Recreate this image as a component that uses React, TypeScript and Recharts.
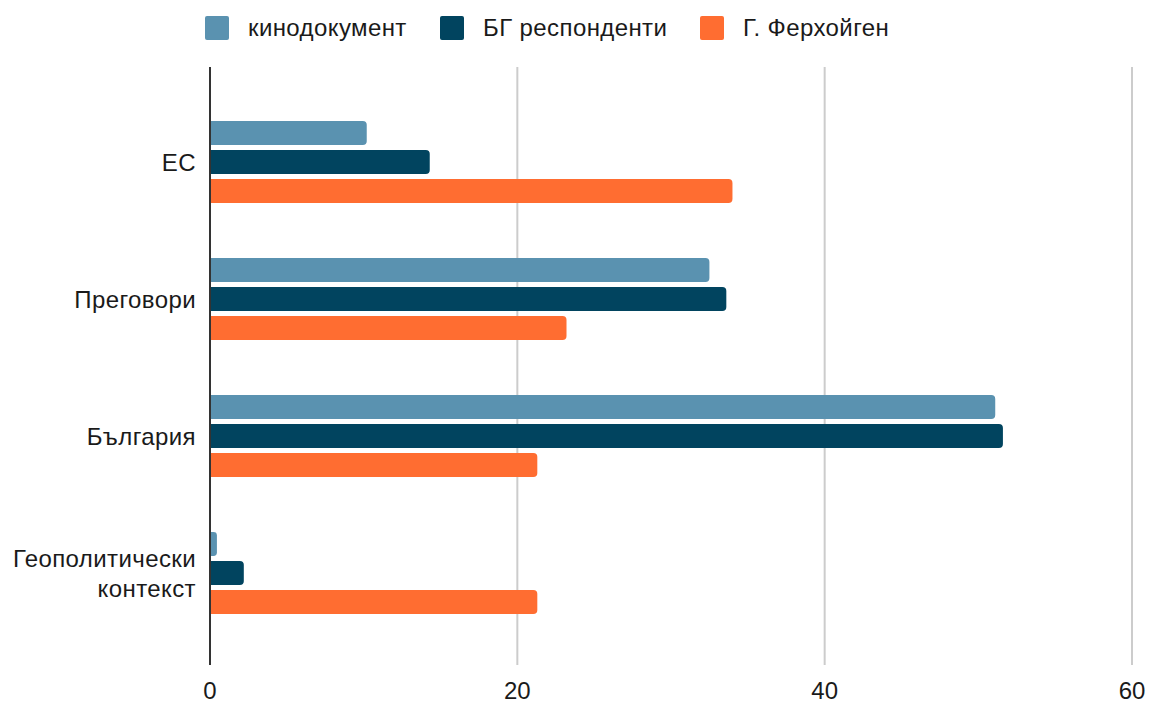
import { BarChart, Bar, XAxis, YAxis, CartesianGrid } from "recharts";

const categories = ["ЕС", "Преговори", "България", "Геополитически контекст"];
const kinodokument = [10.2, 32.5, 51.1, 0.45];
const bgRespondents = [14.3, 33.6, 51.6, 2.2];
const verheugen = [34.0, 23.2, 21.3, 21.3];
const xTicks = [0, 20, 40, 60];

const series = [
  { key: "kino", name: "кинодокумент", color: "#5a92b0", x: 205 },
  { key: "bg", name: "БГ респонденти", color: "#01445f", x: 440 },
  { key: "ver", name: "Г. Ферхойген", color: "#ff6d31", x: 700 },
];

const data = categories.map((c, i) => ({
  category: c,
  kino: kinodokument[i],
  bg: bgRespondents[i],
  ver: verheugen[i],
}));

const FONT = "'Liberation Sans', Arial, sans-serif";
const FS = 24;
const LS = 0.4;

const CategoryTick = ({ x, y, payload }: any) => {
  const words = String(payload.value).split(" ");
  const lineH = 30;
  const startDy = -((words.length - 1) * lineH) / 2;
  return (
    <text
      x={x - 6}
      y={y}
      textAnchor="end"
      fill="#1a1a1a"
      fontSize={FS}
      letterSpacing={LS}
      fontFamily={FONT}
      dominantBaseline="central"
    >
      {words.map((w, i) => (
        <tspan key={i} x={x - 6} dy={i === 0 ? startDy : lineH}>
          {w}
        </tspan>
      ))}
    </text>
  );
};

export default function App() {
  return (
    <div style={{ position: "absolute", left: 0, top: 0, width: 1151, height: 705, background: "#fff", fontFamily: FONT }}>
      {series.map((s) => (
        <div
          key={s.key}
          style={{
            position: "absolute",
            top: 14,
            left: s.x,
            height: 28,
            display: "flex",
            alignItems: "center",
            fontSize: FS,
            letterSpacing: LS,
            color: "#1a1a1a",
            whiteSpace: "nowrap",
          }}
        >
          <span
            style={{
              display: "inline-block",
              width: 24,
              height: 24,
              borderRadius: 2,
              background: s.color,
              marginRight: 19,
            }}
          />
          <span>{s.name}</span>
        </div>
      ))}
      <BarChart
        width={1151}
        height={705}
        data={data}
        layout="vertical"
        margin={{ top: 67, right: 19, bottom: 0, left: 0 }}
        barSize={24}
        barGap={5}
      >
        <CartesianGrid horizontal={false} stroke="#cccccc" strokeWidth={2} />
        <XAxis
          type="number"
          domain={[0, 60]}
          ticks={xTicks}
          axisLine={false}
          tickLine={false}
          height={40}
          tick={{ fontSize: FS, fill: "#1a1a1a", fontFamily: FONT }}
          tickMargin={11}
        />
        <YAxis
          type="category"
          dataKey="category"
          width={210}
          axisLine={{ stroke: "#333", strokeWidth: 2 }}
          tickLine={false}
          tick={<CategoryTick />}
          padding={{ top: 26, bottom: 24 }}
        />
        {series.map((s) => (
          <Bar
            key={s.key}
            dataKey={s.key}
            name={s.name}
            fill={s.color}
            radius={[0, 4, 4, 0]}
            isAnimationActive={false}
          />
        ))}
      </BarChart>
    </div>
  );
}
